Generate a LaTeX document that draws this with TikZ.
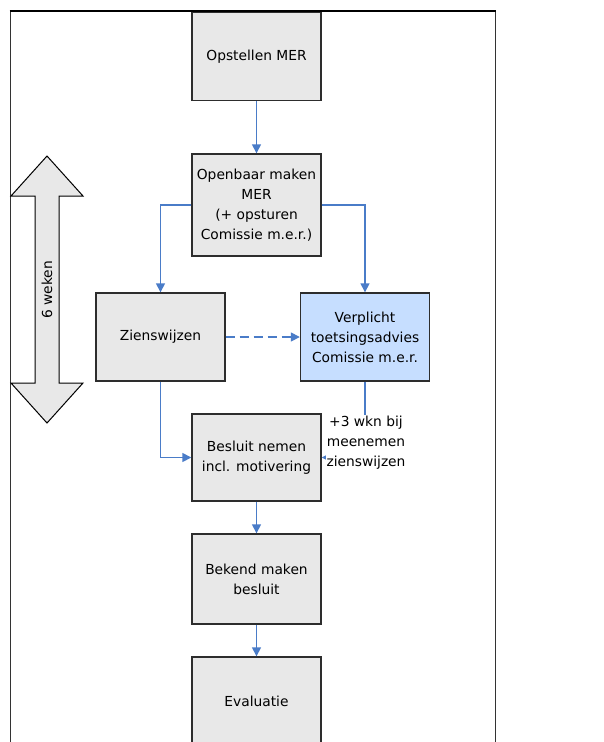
\documentclass[tikz,border=0pt]{standalone}
\usepackage{fontspec}
\setmainfont{DejaVu Sans}
\usetikzlibrary{arrows.meta}
\definecolor{boxgray}{RGB}{232,232,232}
\definecolor{boxblue}{RGB}{198,222,255}
\definecolor{connblue}{RGB}{74,124,200}
\definecolor{edgegray}{RGB}{45,45,45}
\tikzset{
  txt/.style={font=\fontsize{13.8}{20}\selectfont},
  stepbox/.style={draw=edgegray, fill=boxgray, line width=1.4pt, minimum width=129pt, minimum height=88pt, inner sep=0pt, align=center, txt},
  bluebox/.style={stepbox, fill=boxblue},
  conn/.style={draw=connblue, line width=1.5pt, -{Triangle[length=9pt,width=9pt]}},
  lbl/.style={fill=white, inner sep=1pt, align=center, txt}
}
\begin{document}
\begin{tikzpicture}[x=1pt,y=-1pt]
\useasboundingbox[fill=white] (0,0) rectangle (603,742);
% frame
\draw[line width=1pt, black!80] (10,746) -- (10,11);
\draw[line width=1pt, black!80] (495,11) -- (495,746);
\draw[line width=1.8pt, black] (9.5,11) -- (495.5,11);
% double arrow
\draw[fill=boxgray, draw=black, line width=1pt]
  (47,156) -- (83,196) -- (59,196) -- (59,383) -- (83,383) -- (47,423)
  -- (11,383) -- (35,383) -- (35,196) -- (11,196) -- cycle;
\node[rotate=90, txt] (weken) at (47,290) {6 weken};
% boxes
\node[stepbox] (opst) at (256.5,56.5) {Opstellen MER};
\node[stepbox, minimum height=102pt] (open) at (256.5,205) {Openbaar maken\\MER\\(+ opsturen\\Comissie m.e.r.)};
\node[stepbox] (zien) at (160.5,337) {Zienswijzen};
\node[bluebox] (ver) at (365,337) {Verplicht\\toetsingsadvies\\Comissie m.e.r.};
\node[stepbox, minimum height=87pt] (bes) at (256.5,457.5) {Besluit nemen\\incl. motivering};
\node[stepbox, minimum height=90pt] (bek) at (256.5,579) {Bekend maken\\besluit};
\node[stepbox, minimum height=89pt] (eva) at (256.5,701.5) {Evaluatie};
% connectors
\draw[conn] (opst) -- (open);
\draw[conn] (open.west) -| (zien.north);
\draw[conn] (open.east) -| (ver.north);
\draw[conn, dash pattern=on 9pt off 5pt] (zien) -- (ver);
\draw[conn] (zien.south) |- (bes.west);
\draw[conn] (ver.south) |- (bes.east);
\node[lbl] (wkn) at (366,443) {+3 wkn bij\\meenemen\\zienswijzen};
\draw[conn] (bes) -- (bek);
\draw[conn] (bek) -- (eva);
\end{tikzpicture}
\end{document}
